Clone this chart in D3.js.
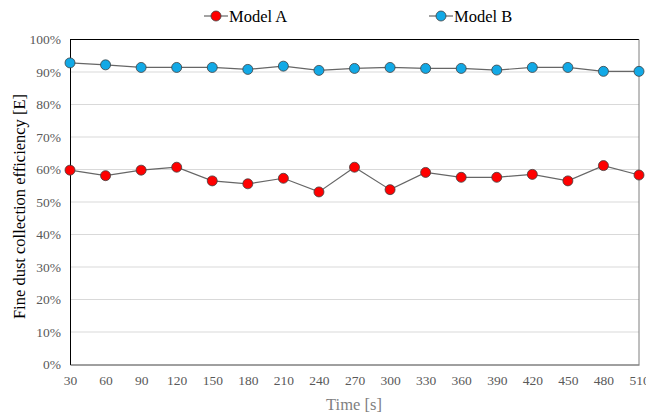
<!DOCTYPE html>
<html><head><meta charset="utf-8">
<script src="https://cdn.jsdelivr.net/npm/d3@7"></script>
<style>body{margin:0;background:#fff}svg{display:block}text{font-family:'Liberation Serif','Times New Roman',serif}</style>
</head><body>
<svg id="c" width="646" height="419"></svg>
<script>
const times = [30,60,90,120,150,180,210,240,270,300,330,360,390,420,450,480,510];
const modelA = [59.8,58.1,59.8,60.7,56.5,55.6,57.3,53.1,60.7,53.8,59.1,57.6,57.6,58.5,56.5,61.2,58.3];
const modelB = [92.8,92.2,91.4,91.4,91.4,90.8,91.8,90.5,91.1,91.4,91.1,91.1,90.6,91.4,91.4,90.2,90.2];
const yTicks = [0,10,20,30,40,50,60,70,80,90,100];
const seriesNames = ["Model A","Model B"];
const seriesColors = ["#ff0000","#12a9e6"];

const svg = d3.select("#c");
const font = "'Liberation Serif','Times New Roman',serif";
const m = {l:70, r:639, t:39.5, b:364.5};
const x = d3.scaleLinear().domain([30,510]).range([m.l, m.r]);
const y = d3.scaleLinear().domain([0,100]).range([m.b, m.t]);

// gridlines
svg.append("g").selectAll("line").data(yTicks.filter(d=>d>0&&d<100)).join("line")
  .attr("x1",m.l).attr("x2",m.r).attr("y1",d=>y(d)).attr("y2",d=>y(d))
  .attr("stroke","#d9d9d9").attr("stroke-width",1);

// frame
svg.append("line").attr("x1",m.l).attr("x2",m.r).attr("y1",y(100)).attr("y2",y(100)).attr("stroke","#000");
svg.append("line").attr("x1",m.r).attr("x2",m.r).attr("y1",y(100)).attr("y2",y(0)).attr("stroke","#7f7f7f");

// axes
const yAxis = d3.axisLeft(y).tickValues(yTicks).tickFormat(d=>d+"%").tickSize(0).tickPadding(9);
const gy = svg.append("g").attr("transform",`translate(${m.l},0)`).call(yAxis);
gy.attr("font-family",null);
gy.select(".domain").attr("stroke","#000");
gy.selectAll("text").style("font-family",font).style("font-size","13.5px").attr("fill","#595959");

const xAxis = d3.axisBottom(x).tickValues(times).tickSize(0).tickPadding(11);
const gx = svg.append("g").attr("transform",`translate(0,${m.b})`).call(xAxis);
gx.attr("font-family",null);
gx.select(".domain").attr("stroke","#404040");
gx.selectAll("text").style("font-family",font).style("font-size","13.5px").attr("fill","#595959");

// series
const data = [modelA, modelB];
const line = d3.line().x((d,i)=>x(times[i])).y(d=>y(d));
data.forEach((vals,k)=>{
  svg.append("path").datum(vals).attr("d",line).attr("fill","none")
    .attr("stroke","#666666").attr("stroke-width",1.2);
  svg.append("g").selectAll("circle").data(vals).join("circle")
    .attr("cx",(d,i)=>x(times[i])).attr("cy",d=>y(d)).attr("r",5)
    .attr("fill",seriesColors[k]).attr("stroke","#404040").attr("stroke-width",0.8);
});

// axis titles
svg.append("text").attr("x",354).attr("y",410).attr("text-anchor","middle")
  .style("font-size","16.5px").attr("fill","#7f7f7f").text("Time [s]");
svg.append("text").attr("transform",`translate(25,206.5) rotate(-90)`).attr("text-anchor","middle")
  .style("font-size","16.5px").attr("fill","#000").text("Fine dust collection efficiency [E]");

// legend
const legX = [204, 429];
seriesNames.forEach((n,k)=>{
  const g = svg.append("g").attr("transform",`translate(${legX[k]},16)`);
  g.append("line").attr("x1",0).attr("x2",24).attr("stroke","#666666").attr("stroke-width",1.2);
  g.append("circle").attr("cx",12).attr("r",5).attr("fill",seriesColors[k]).attr("stroke","#404040").attr("stroke-width",0.8);
  g.append("text").attr("x",25).attr("y",5.5).style("font-size","16.5px").attr("fill","#000").text(n);
});
</script>
</body></html>
